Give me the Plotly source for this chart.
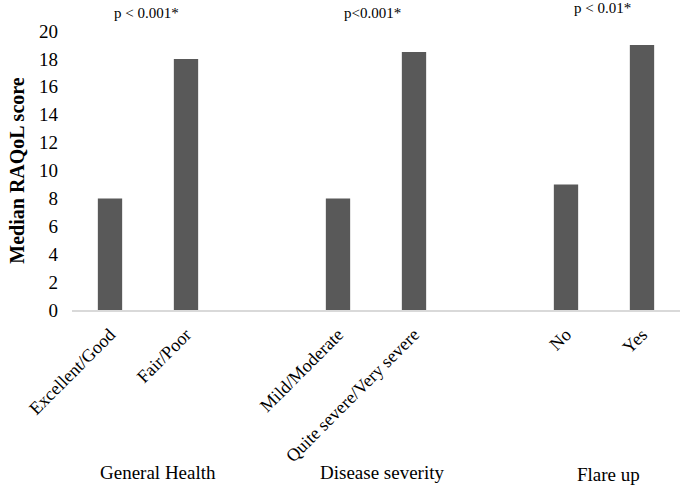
import plotly.graph_objects as go

categories = ["Excellent/Good", "Fair/Poor", " ", "Mild/Moderate", "Quite severe/Very severe", "  ", "No", "Yes"]
values = [8, 18, None, 8, 18.5, None, 9, 19]
group_labels = ["General Health", "Disease severity", "Flare up"]
p_labels = ["p < 0.001*", "p<0.001*", "p < 0.01*"]
y_ticks = list(range(0, 21, 2))

FONT = "Liberation Serif, Times New Roman, serif"

fig = go.Figure(go.Bar(x=categories, y=values, marker=dict(color="#595959", line=dict(width=0)),
                       width=0.32, hoverinfo="skip"))

fig.update_layout(
    width=685, height=486,
    margin=dict(l=72, r=5, t=31, b=176),
    paper_bgcolor="white", plot_bgcolor="white",
    font=dict(family=FONT, size=18, color="#000000"),
    showlegend=False,
)
fig.update_xaxes(type="category", categoryorder="array", categoryarray=categories,
                 tickangle=-45, showline=True, linecolor="#d9d9d9", linewidth=2,
                 ticks="", showgrid=False, automargin=False, ticklabelstandoff=5,
                 tickfont=dict(family=FONT, size=18))
fig.update_yaxes(range=[0, 20], tickvals=y_ticks, showgrid=False, showline=False, zeroline=False,
                 ticks="", automargin=False, ticklabelstandoff=13,
                 tickfont=dict(family=FONT, size=19),
                 title=dict(text="<b>Median RAQoL score</b>", font=dict(family=FONT, size=20), standoff=9))

px = [0.123, 0.495, 0.873]
py = [1.0645, 1.0645, 1.0824]
for lab, xx, yy in zip(p_labels, px, py):
    fig.add_annotation(x=xx, xref="paper", y=yy, yref="paper", text=lab, showarrow=False,
                       xanchor="center", yanchor="middle", font=dict(family=FONT, size=15))

gx = [0.1414, 0.510, 0.8816]
gy = [-0.581, -0.581, -0.591]
for lab, xx, yy in zip(group_labels, gx, gy):
    fig.add_annotation(x=xx, xref="paper", y=yy, yref="paper", text=lab, showarrow=False,
                       xanchor="center", yanchor="middle", font=dict(family=FONT, size=19))

fig.write_html("out.html", config={"displayModeBar": False},
               post_script="document.body.style.margin='0';")
